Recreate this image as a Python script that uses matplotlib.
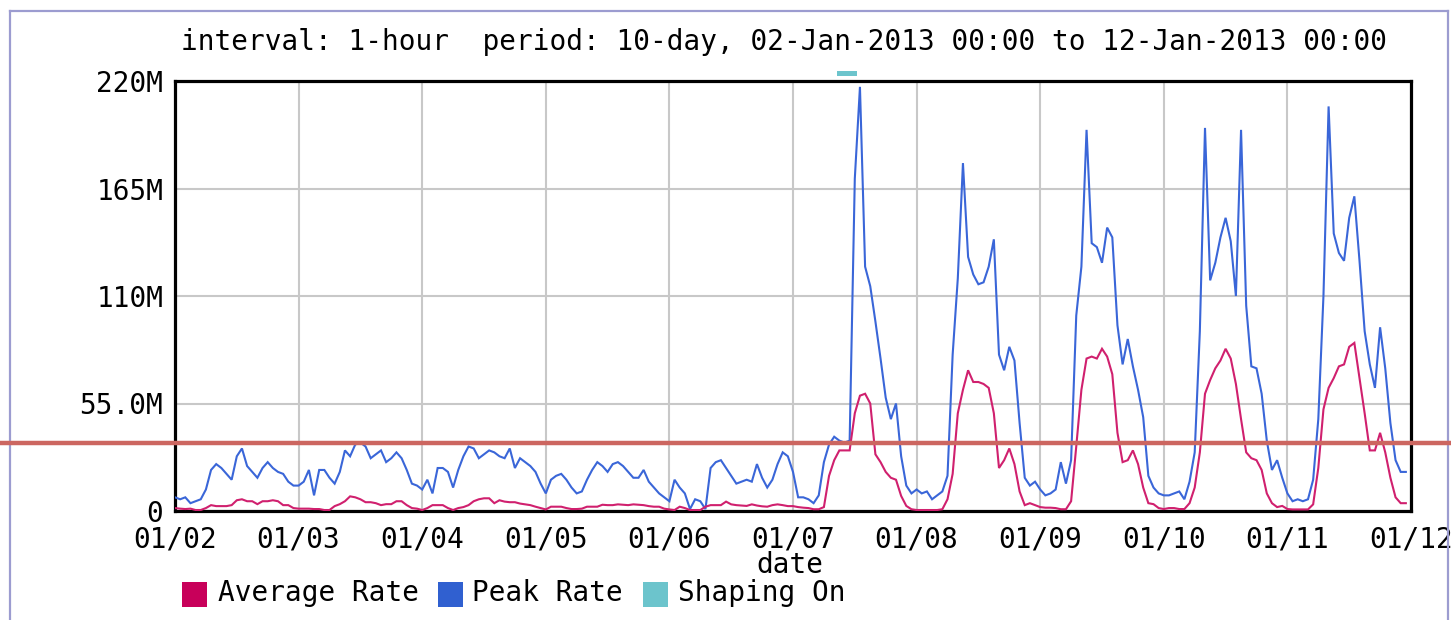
import matplotlib
matplotlib.use("Agg")
import matplotlib.pyplot as plt
from matplotlib.lines import Line2D
from matplotlib.patches import Rectangle
import matplotlib.transforms as mtransforms
import numpy as np

# ---------------- data ----------------
day_labels = ["01/02", "01/03", "01/04", "01/05", "01/06", "01/07",
              "01/08", "01/09", "01/10", "01/11", "01/12"]
y_ticks = [0, 55, 110, 165, 220]
y_tick_labels = ["0", "55.0M", "110M", "165M", "220M"]

# hourly peak rate (M), 02-Jan 00:00 .. 11-Jan 23:00
peak_rate = [
    7, 6, 7, 4, 5, 6, 11, 21, 24, 22, 19, 16, 28, 32, 23, 20, 17, 22, 25, 22, 20, 19, 15, 13,
    13, 15, 21, 8, 21, 21, 17, 14, 20, 31, 28, 34, 35, 33, 27, 29, 31, 25, 27, 30, 27, 21, 14, 13,
    11, 16, 9, 22, 22, 20, 12, 21, 28, 33, 32, 27, 29, 31, 30, 28, 27, 32, 22, 27, 25, 23, 20, 14,
    9, 16, 18, 19, 16, 12, 9, 10, 16, 21, 25, 23, 20, 24, 25, 23, 20, 17, 17, 21, 15, 12, 9, 7,
    5, 16, 12, 9, 1, 6, 5, 1, 22, 25, 26, 22, 18, 14, 15, 16, 15, 24, 17, 12, 16, 24, 30, 28,
    20, 7, 7, 6, 4, 8, 25, 34, 38, 36, 35, 36, 170, 217, 125, 115, 97, 78, 58, 47, 55, 28, 13, 9,
    11, 9, 10, 6, 8, 10, 18, 80, 119, 178, 130, 121, 116, 117, 125, 139, 80, 72, 84, 77, 45, 17, 13, 15,
    11, 8, 9, 11, 25, 14, 26, 100, 125, 195, 137, 135, 127, 145, 140, 95, 75, 88, 74, 62, 48, 18, 12, 9,
    8, 8, 9, 10, 6, 15, 30, 92, 196, 118, 127, 140, 150, 138, 110, 195, 105, 74, 73, 60, 36, 21, 26, 17,
    9, 5, 6, 5, 6, 16, 47, 110, 207, 142, 132, 128, 150, 161, 128, 92, 75, 63, 94, 73, 45, 26, 20, 20,
]

# hourly average rate (M)
average_rate = [
    1.5, 1.2, 1, 1.2, 0.5, 0.5, 1.5, 3, 2.5, 2.5, 2.5, 3, 5.5, 6, 5, 5, 3.5, 5, 5, 5.5, 5, 3, 3, 1.5,
    1.2, 1.2, 1.2, 1, 1, 0.5, 0.5, 2.5, 3.5, 5, 7.5, 7, 6, 4.5, 4.5, 4, 3, 3.5, 3.5, 5, 5, 3, 1.5, 1.2,
    0.5, 1.5, 3, 3, 3, 1.5, 0.5, 1.5, 2, 3, 5, 6, 6.5, 6.5, 4, 5.5, 4.8, 4.5, 4.5, 3.8, 3.4, 3, 2.2, 1.5,
    0.8, 2.2, 2.2, 2.2, 1.5, 1, 1, 1.2, 2.2, 2.2, 2.2, 3.2, 3, 3, 3.4, 3.2, 3, 3.4, 3.2, 3, 2.5, 2.2, 2.2, 1.2,
    0.8, 0.5, 2.2, 1.5, 0.5, 0.5, 0.5, 2.2, 3, 3, 3, 4.8, 3.4, 3, 2.8, 2.6, 3.4, 2.8, 2.4, 2.2, 3, 3.4, 3, 2.5,
    2.5, 2, 1.7, 1.5, 0.9, 0.9, 2, 18, 26, 31, 31, 31, 50, 59, 60, 55, 29, 25, 20, 17, 16, 7.7, 2.6, 0.9,
    0.5, 0.5, 0.5, 0.5, 0.5, 0.9, 6, 19, 50, 62, 72, 66, 66, 65, 63, 50, 22, 26, 32, 24, 10, 3, 4, 3,
    2, 1.7, 1.7, 1.5, 0.9, 0.9, 5, 33, 62, 78, 79, 78, 83, 79, 70, 40, 25, 26, 31, 24, 12, 4, 3.5, 1.5,
    1, 1.5, 1.5, 1, 1, 4, 12, 30, 60, 67, 73, 77, 83, 78, 65, 47, 30, 27, 26, 21, 9, 4, 2, 2.6,
    1, 0.8, 0.8, 0.8, 0.8, 3.4, 22, 52, 63, 68, 74, 75, 84, 86, 68, 50, 31, 31, 40, 30, 17, 7, 4, 4,
]

# hours (from 02-Jan 00:00) during which shaping was on
shaping_on_hours = [129, 130, 131, 132]

legend_labels = ["Average Rate", "Peak Rate", "Shaping On"]
title_text = "interval: 1-hour  period: 10-day, 02-Jan-2013 00:00 to 12-Jan-2013 00:00"

# ---------------- styles ----------------
avg_color = "#D0206E"
peak_color = "#3A66D8"
shaping_color = "#6CC4CC"
legend_colors = ["#C8005A", "#3060D0", "#6CC4CC"]
FONT = "DejaVu Sans Mono"
FS = 20

W, H = 1451, 620
fig = plt.figure(figsize=(W / 100, H / 100), dpi=100)
fig.patch.set_facecolor("white")

ax = fig.add_axes([175 / W, 1 - 511 / H, (1411 - 175) / W, (511 - 81) / H])

hours = np.arange(len(peak_rate))
ax.plot(hours, peak_rate, color=peak_color, lw=1.5, zorder=3, solid_joinstyle="miter")
ax.plot(hours, average_rate, color=avg_color, lw=1.5, zorder=4, solid_joinstyle="miter")

ax.set_xlim(0, 240)
ax.set_ylim(0, 220)
ax.set_xticks(np.arange(0, 241, 24))
ax.set_xticklabels(day_labels, fontfamily=FONT, fontsize=FS)
ax.set_yticks(y_ticks)
ax.set_yticklabels(y_tick_labels, fontfamily=FONT, fontsize=FS)
ax.tick_params(axis="both", length=0)
ax.tick_params(axis="y", pad=8.5)
ax.tick_params(axis="x", pad=10.5)
ax.grid(True, color="#C8C8C8", lw=1.5, zorder=1)
ax.set_axisbelow(True)
for sp in ax.spines.values():
    sp.set_color("black")
    sp.set_linewidth(2.3)

# shaping-on indicator above the plot
blend = mtransforms.blended_transform_factory(ax.transData, ax.transAxes)
for h in shaping_on_hours:
    ax.add_patch(Rectangle((h - 0.5, 1.0116), 1.0, 0.0116, transform=blend,
                           facecolor=shaping_color, edgecolor="none", clip_on=False))

# title and x label
fig.text(784 / W, 1 - 42 / H, title_text, ha="center", va="center",
         fontfamily=FONT, fontsize=FS)
fig.text(790 / W, 1 - 573 / H, "date", ha="center", va="baseline",
         fontfamily=FONT, fontsize=FS)

# legend
sq_x = [182, 438, 643]
txt_x = [218, 472, 678]
for sx, tx, lab, col in zip(sq_x, txt_x, legend_labels, legend_colors):
    fig.add_artist(Rectangle((sx / W, 1 - 607 / H), 25 / W, 25 / H,
                             transform=fig.transFigure, facecolor=col, edgecolor="none"))
    fig.text(tx / W, 1 - 601 / H, lab, ha="left", va="baseline",
             fontfamily=FONT, fontsize=FS)

# image frame
frame_col = "#9C9CD0"
fig.add_artist(Line2D([9.5 / W, 9.5 / W], [0, 1 - 11 / H], color=frame_col, lw=1.6))
fig.add_artist(Line2D([9.5 / W, 1448 / W], [1 - 11 / H, 1 - 11 / H], color=frame_col, lw=1.6))
fig.add_artist(Line2D([1448 / W, 1448 / W], [0, 1 - 11 / H], color=frame_col, lw=1.6))

# red overlay line
fig.add_artist(Line2D([0, 1], [1 - 443 / H, 1 - 443 / H], color="#CC6660", lw=3.2, zorder=10))

fig.savefig("out.png", dpi=100, facecolor="white")
